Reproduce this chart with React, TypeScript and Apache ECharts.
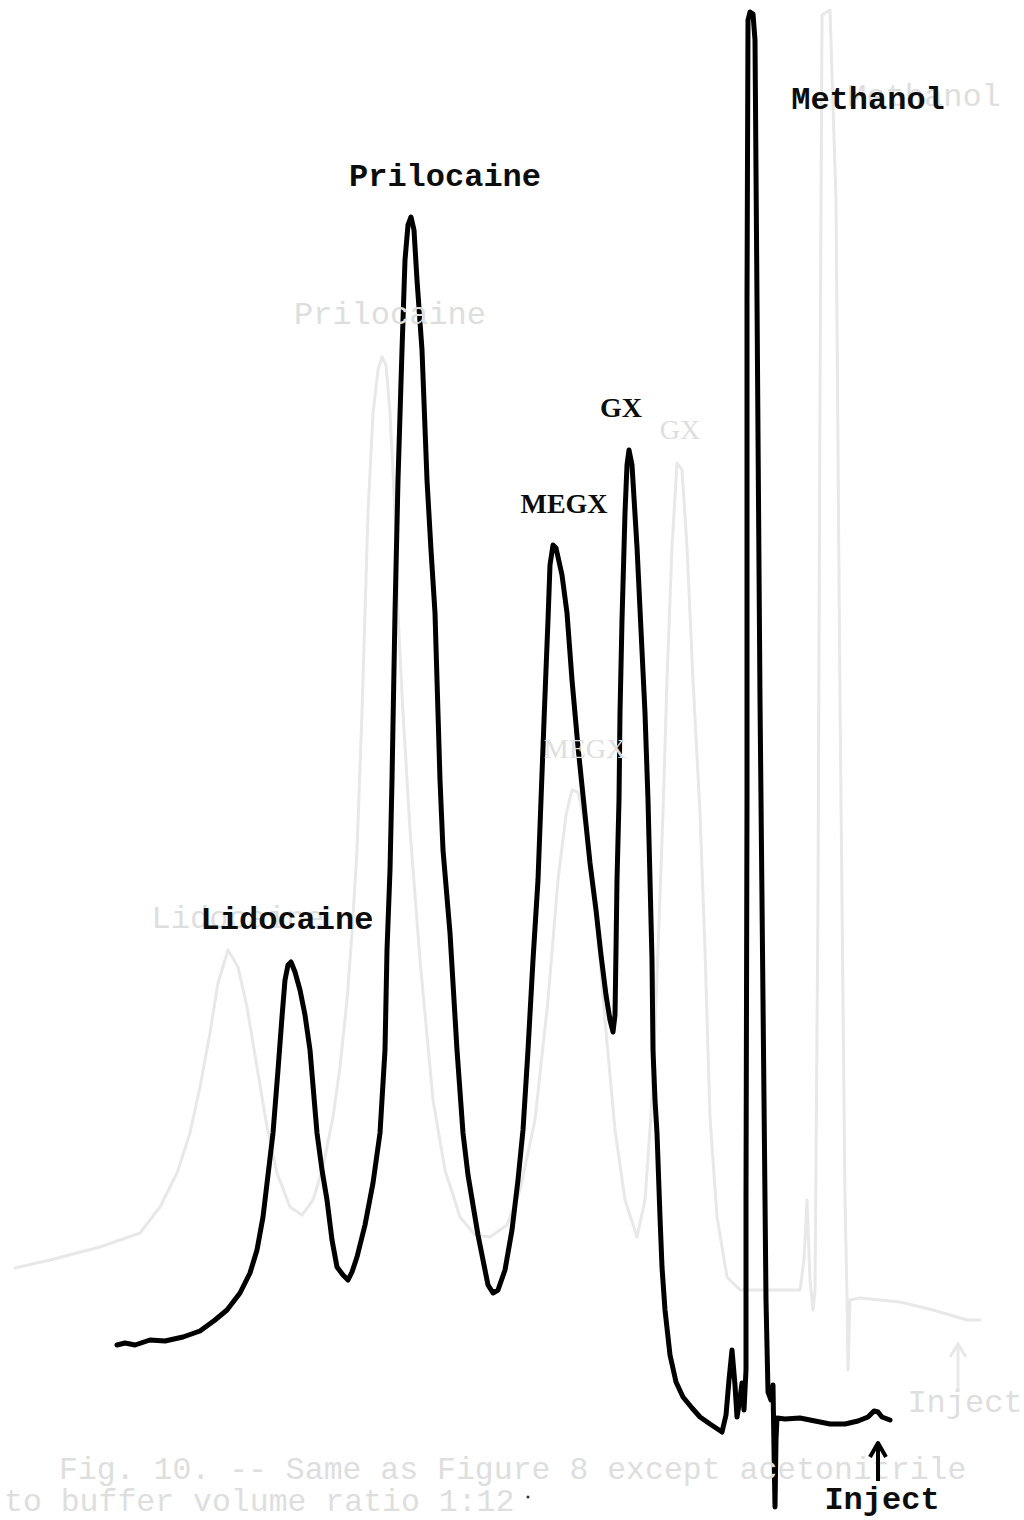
import React, { useEffect, useRef } from "react";
import * as echarts from "echarts";

// Chart-paper position (x) and detector signal (s).
const mainTrace: [number, number][] = [
  [117, 175], [125, 177], [135, 175], [150, 180], [165, 179], [183, 183], [200, 189],
  [215, 200], [227, 210], [240, 227], [250, 247], [257, 270], [263, 303], [268, 345],
  [273, 387], [278, 450], [282, 503], [285, 540], [288, 555], [291, 558], [295, 548],
  [300, 530], [305, 505], [310, 470], [317, 387], [322, 350], [327, 320], [332, 280],
  [337, 253], [343, 245], [348, 240], [352, 248], [357, 263], [365, 295], [373, 337],
  [380, 387], [385, 470], [387, 570], [390, 650], [392, 740], [395, 907], [398, 1040],
  [402, 1170], [405, 1260], [408, 1295], [411, 1303], [414, 1290], [417, 1240],
  [422, 1170], [427, 1040], [431, 970], [435, 907], [440, 740], [443, 670], [450, 587],
  [457, 470], [463, 387], [468, 345], [473, 315], [478, 285], [482, 265], [488, 235],
  [493, 227], [498, 230], [505, 250], [512, 290], [518, 340], [523, 390], [528, 470],
  [533, 560], [538, 640], [541, 720], [545, 825], [548, 900], [550, 955], [553, 975],
  [556, 972], [562, 945], [567, 907], [572, 840], [578, 773], [584, 715], [590, 657],
  [596, 610], [601, 565], [606, 525], [610, 500], [613, 488], [615, 505], [616, 570],
  [617, 640], [619, 720], [620, 807], [622, 900], [625, 1007], [627, 1055], [629, 1070],
  [632, 1055], [637, 973], [641, 890], [645, 807], [648, 720], [650, 640], [652, 560],
  [653, 470], [655, 420], [657, 387], [660, 303], [662, 253], [665, 210], [670, 165],
  [676, 138], [683, 123], [692, 112], [700, 103], [710, 96], [722, 88], [726, 105],
  [729, 140], [732, 170], [735, 135], [737, 103], [740, 122], [742, 137], [744, 110],
  [746, 150], [746, 320], [747, 720], [747, 1220], [748, 1500], [750, 1508], [753, 1506],
  [755, 1480], [757, 1220], [760, 820], [763, 520], [766, 220], [768, 128], [771, 120],
  [773, 135], [774, 70], [775, 13], [776, 80], [777, 102], [785, 101], [800, 102],
  [815, 99], [830, 96], [845, 96], [858, 99], [868, 103], [874, 109], [878, 108],
  [882, 103], [890, 100],
];

// Faint show-through of the trace on the reverse of the page.
const ghostTrace: [number, number][] = [
  [15, 252], [50, 260], [100, 273], [140, 287], [160, 313], [177, 347], [190, 387],
  [200, 433], [210, 487], [218, 537], [228, 570], [238, 553], [247, 513], [257, 453],
  [267, 393], [277, 347], [290, 313], [302, 305], [313, 320], [323, 353], [333, 403],
  [340, 453], [347, 520], [352, 587], [357, 670], [362, 807], [365, 907], [368, 1007],
  [373, 1107], [378, 1150], [382, 1163], [386, 1155], [390, 1107], [395, 1007],
  [398, 907], [403, 807], [410, 690], [420, 560], [433, 420], [445, 350], [460, 303],
  [475, 285], [490, 283], [507, 295], [520, 330], [535, 400], [548, 520], [558, 640],
  [566, 705], [572, 730], [578, 728], [585, 695], [595, 620], [605, 500], [615, 390],
  [625, 320], [637, 283], [645, 320], [652, 420], [658, 570], [663, 707], [667, 840],
  [672, 973], [677, 1057], [682, 1050], [687, 973], [693, 840], [700, 707], [705, 570],
  [710, 403], [717, 303], [727, 243], [740, 230], [770, 230], [800, 230], [804, 260],
  [807, 320], [810, 240], [813, 210], [815, 230], [818, 620], [820, 1120], [822, 1505],
  [830, 1510], [836, 1320], [840, 820], [845, 320], [847, 223], [848, 150], [850, 220],
  [860, 222], [900, 218], [933, 210], [967, 200], [980, 200],
];

const peakLabels = ["Methanol", "Prilocaine", "GX", "MEGX", "Lidocaine"];
const ghostLabels = ["Methanol", "Prilocaine", "GX", "MEGX", "Lidocaine"];
const injectLabel = "Inject";
const captionLines = [
  "Fig. 10. -- Same as Figure 8 except acetonitrile",
  "to buffer volume ratio 1:12",
];

const MONO = "'Liberation Mono', 'DejaVu Sans Mono', monospace";
const SERIF = "'Liberation Serif', 'DejaVu Serif', serif";
const GHOST_TEXT = "#dedede";
const GHOST_LINE = "#e8e8e8";
const INK = "#0d0d0d";

export default function App() {
  const ref = useRef<HTMLDivElement>(null);

  useEffect(() => {
    document.body.style.margin = "0";
    document.body.style.background = "#ffffff";
    if (!ref.current) return;
    const chart = echarts.init(ref.current, null, { renderer: "svg" });

    const txt = (
      text: string,
      x: number,
      y: number,
      color: string,
      font: string,
      size: number,
      align: string = "center",
      weight: string = "normal"
    ) => ({
      type: "text",
      x,
      y,
      z: 10,
      style: {
        text,
        fill: color,
        font: `${weight} ${size}px ${font}`,
        textAlign: align,
        textVerticalAlign: "middle",
      },
    });

    const graphic: any[] = [
      // ghost (show-through) texts
      txt(ghostLabels[0], 924, 97, GHOST_TEXT, MONO, 32),
      txt(ghostLabels[1], 390, 315, GHOST_TEXT, MONO, 32),
      txt(ghostLabels[2], 680, 429, GHOST_TEXT, SERIF, 28),
      txt(ghostLabels[3], 585, 748, GHOST_TEXT, SERIF, 28),
      txt(ghostLabels[4], 238, 919, GHOST_TEXT, MONO, 32),
      txt(injectLabel, 965, 1403, GHOST_TEXT, MONO, 32),
      txt(captionLines[0], 59, 1470, GHOST_TEXT, MONO, 31.5, "left"),
      txt(captionLines[1], 4, 1502, GHOST_TEXT, MONO, 31.5, "left"),
      {
        type: "line",
        shape: { x1: 958, y1: 1392, x2: 958, y2: 1346 },
        style: { stroke: GHOST_LINE, lineWidth: 3 },
      },
      {
        type: "polyline",
        shape: { points: [[950, 1357], [958, 1344], [966, 1357]] },
        style: { stroke: GHOST_LINE, lineWidth: 3, fill: "none" },
      },
      // main labels
      txt(peakLabels[0], 868, 100, INK, MONO, 32, "center", "bold"),
      txt(peakLabels[1], 445, 177, INK, MONO, 32, "center", "bold"),
      txt(peakLabels[2], 621, 407, INK, SERIF, 28, "center", "bold"),
      txt(peakLabels[3], 564, 503, INK, SERIF, 28, "center", "bold"),
      txt(peakLabels[4], 287, 920, INK, MONO, 32, "center", "bold"),
      txt(injectLabel, 882, 1500, INK, MONO, 32, "center", "bold"),
      {
        type: "line",
        shape: { x1: 878, y1: 1481, x2: 878, y2: 1447 },
        style: { stroke: "#000000", lineWidth: 4 },
        z: 10,
      },
      {
        type: "polyline",
        shape: { points: [[870, 1457], [878, 1443], [886, 1457]] },
        style: { stroke: "#000000", lineWidth: 4, fill: "none", lineJoin: "round" },
        z: 10,
      },
      {
        type: "circle",
        shape: { cx: 528, cy: 1497, r: 1.5 },
        style: { fill: "#333333" },
        z: 10,
      },
    ];

    chart.setOption({
      animation: false,
      backgroundColor: "#ffffff",
      grid: { left: 0, right: 0, top: 0, bottom: 0 },
      xAxis: {
        type: "value",
        min: 0,
        max: 1024,
        show: false,
        splitLine: { show: false },
      },
      yAxis: {
        type: "value",
        min: 0,
        max: 1520,
        show: false,
        splitLine: { show: false },
      },
      series: [
        {
          type: "line",
          name: "show-through",
          data: ghostTrace,
          symbol: "none",
          lineStyle: { color: GHOST_LINE, width: 3, join: "round", cap: "round" },
          z: 1,
        },
        {
          type: "line",
          name: "chromatogram",
          data: mainTrace,
          symbol: "none",
          lineStyle: { color: "#000000", width: 5, join: "round", cap: "round" },
          z: 5,
        },
      ],
      graphic,
    });

    return () => chart.dispose();
  }, []);

  return <div ref={ref} style={{ width: 1024, height: 1520 }} />;
}
